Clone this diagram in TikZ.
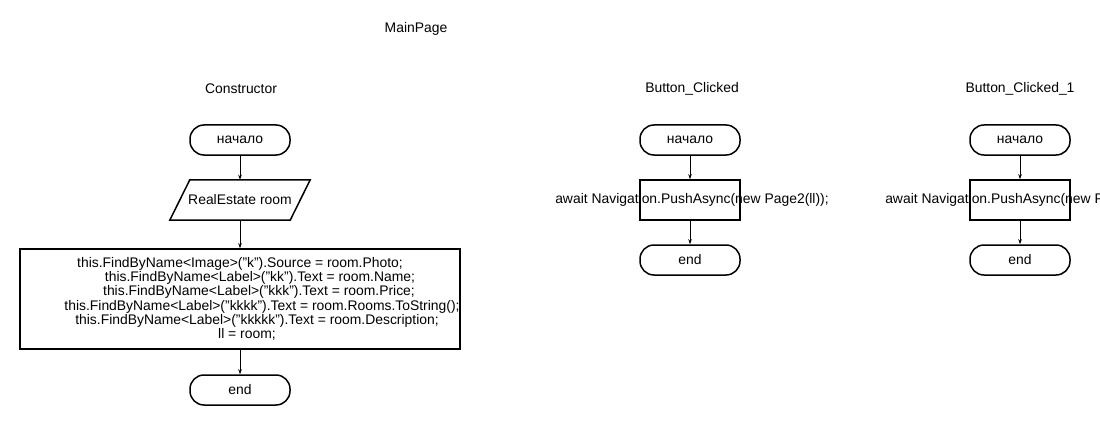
\documentclass[tikz,border=0pt]{standalone}
\usepackage{fontspec}
\setmainfont{Liberation Sans}
\usetikzlibrary{shapes.geometric, arrows.meta, positioning}

\tikzset{
  terminal/.style={draw, line width=1.5pt, rounded corners=14pt, minimum width=100pt, minimum height=30pt, inner sep=0pt},
  inout/.style={minimum width=120pt, minimum height=40pt, inner sep=0pt},
  process/.style={draw, line width=1.5pt, minimum width=100pt, minimum height=40pt, inner sep=0pt},
  flow/.style={line width=1pt, -{Stealth[length=5pt,width=3.5pt]}},
  title/.style={inner sep=0pt}
}

\begin{document}
\begin{tikzpicture}[x=1pt, y=-1pt, font=\fontsize{13.9pt}{14.3pt}\selectfont]
\useasboundingbox (0,0) rectangle (1100,425);

\node[title] (main) at (416,29) {MainPage};

% Constructor
\node[title] (ctor) at (241,89) {Constructor};
\node[terminal] (cbeg) at (240,140) {начало};
\node[inout] (cin) at (240,200) {RealEstate room};
\draw[line width=1.5pt] ([xshift=10pt]cin.north west) -- ([xshift=10pt]cin.north east)
  -- ([xshift=-10pt]cin.south east) -- ([xshift=-10pt]cin.south west) -- cycle;
\node[process, minimum width=440pt, minimum height=100pt, align=center] (cbody) at (240,299) {%
this.FindByName<Image>("k").Source = room.Photo;\\
\hspace*{40pt}this.FindByName<Label>("kk").Text = room.Name;\\
\hspace*{38pt}this.FindByName<Label>("kkk").Text = room.Price;\\
\hspace*{44pt}this.FindByName<Label>("kkkk").Text = room.Rooms.ToString();\\
\hspace*{34pt}this.FindByName<Label>("kkkkk").Text = room.Description;\\
\hspace*{14pt}ll = room;};
\node[terminal] (cend) at (240,390) {end};
\draw[flow] (cbeg) -- (cin);
\draw[flow] (cin) -- (cbody);
\draw[flow] (cbody) -- (cend);

% Button_Clicked
\node[title] (btn) at (692,89) {Button\_Clicked};
\node[terminal] (bbeg) at (690,140) {начало};
\node[process] (bact) at (690,200) {};
\node[inner sep=0pt] (btxt) at (692,200) {await Navigation.PushAsync(new Page2(ll));};
\node[terminal] (bend) at (690,260) {end};
\draw[flow] (bbeg) -- (bact);
\draw[flow] (bact) -- (bend);

% Button_Clicked_1
\node[title] (btno) at (1020,89) {Button\_Clicked\_1};
\node[terminal] (obeg) at (1020,140) {начало};
\node[process] (oact) at (1020,200) {};
\node[inner sep=0pt] (otxt) at (1022,200) {await Navigation.PushAsync(new Page2(ll));};
\node[terminal] (oend) at (1020,260) {end};
\draw[flow] (obeg) -- (oact);
\draw[flow] (oact) -- (oend);
\end{tikzpicture}
\end{document}
